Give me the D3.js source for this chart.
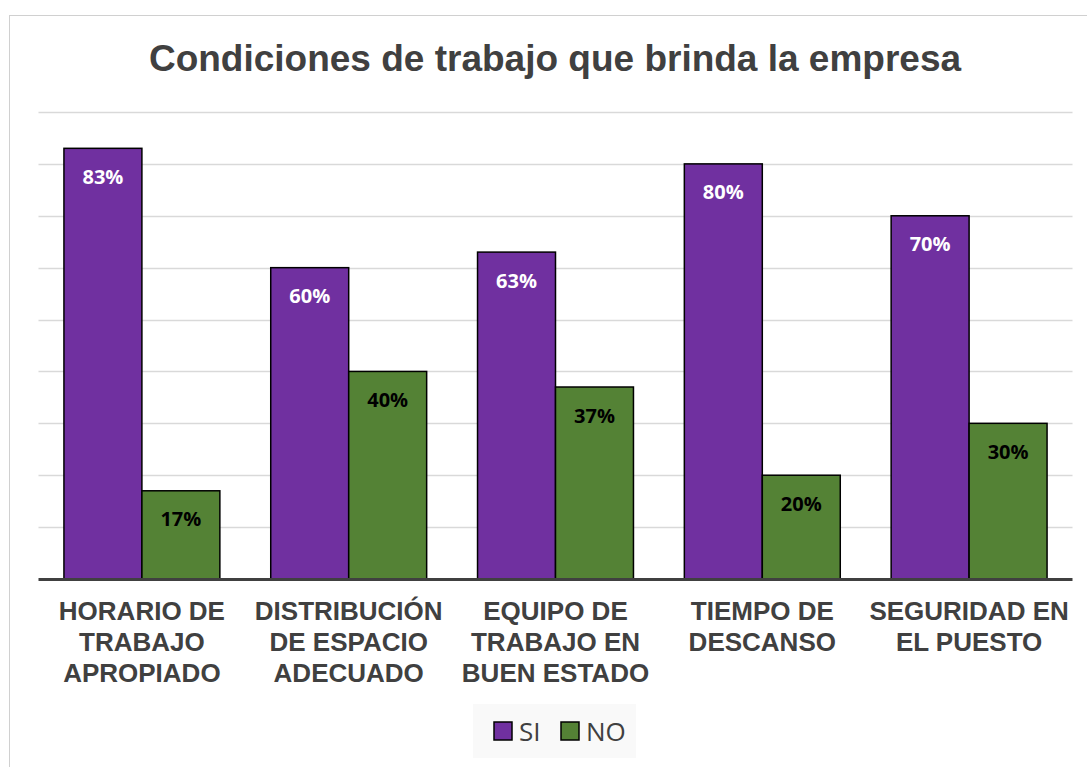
<!DOCTYPE html>
<html><head><meta charset="utf-8">
<script src="https://cdn.jsdelivr.net/npm/d3@7"></script>
<style>html,body{margin:0;padding:0;background:#fff;}</style>
</head><body>
<svg id="c" width="1087" height="767"></svg>
<script>
const categories = [
  ["HORARIO DE","TRABAJO","APROPIADO"],
  ["DISTRIBUCIÓN","DE ESPACIO","ADECUADO"],
  ["EQUIPO DE","TRABAJO EN","BUEN ESTADO"],
  ["TIEMPO DE","DESCANSO"],
  ["SEGURIDAD EN","EL PUESTO"]
];
const seriesNames = ["SI","NO"];
const siValues = [0.83,0.60,0.63,0.80,0.70];
const noValues = [0.17,0.40,0.37,0.20,0.30];
const yTicks = [0,0.1,0.2,0.3,0.4,0.5,0.6,0.7,0.8,0.9];
const colors = ["#7030A0","#548235"];

(function(){
const svg = d3.select("#c");
svg.append("rect").attr("x",9.5).attr("y",15.5).attr("width",1100).attr("height",800)
  .attr("fill","#fff").attr("stroke","#d0d0d0").attr("stroke-width",1);

const pL=38.5, pR=1072.5, pT=112, pB=579;
const x0 = d3.scaleBand().domain(d3.range(categories.length)).range([pL,pR]).paddingInner(0.246).paddingOuter(0.123);
const x1 = d3.scaleBand().domain([0,1]).range([0,x0.bandwidth()]);
const y = d3.scaleLinear().domain([0,0.9]).range([pB,pT]);

svg.append("text").attr("x",555).attr("y",71).attr("text-anchor","middle")
  .attr("font-family","'Liberation Sans', Arial, sans-serif").attr("font-weight","bold")
  .attr("font-size",37).attr("fill","#404040").text("Condiciones de trabajo que brinda la empresa");

svg.append("g").selectAll("line").data(yTicks.slice(1)).join("line")
  .attr("x1",pL).attr("x2",pR).attr("y1",d=>Math.round(y(d))+0.5).attr("y2",d=>Math.round(y(d))+0.5)
  .attr("stroke","#d9d9d9").attr("stroke-width",1.5);

const data = categories.map((c,i)=>({i, vals:[siValues[i],noValues[i]]}));
const g = svg.append("g").selectAll("g").data(data).join("g")
  .attr("transform",d=>`translate(${x0(d.i)},0)`);
g.selectAll("rect").data(d=>d.vals.map((v,k)=>({v,k}))).join("rect")
  .attr("x",d=>x1(d.k)).attr("width",x1.bandwidth())
  .attr("y",d=>y(d.v)).attr("height",d=>pB-y(d.v))
  .attr("fill",d=>colors[d.k]).attr("stroke","#000").attr("stroke-width",1.5);
g.selectAll("text").data(d=>d.vals.map((v,k)=>({v,k}))).join("text")
  .attr("x",d=>x1(d.k)+x1.bandwidth()/2).attr("y",d=>y(d.v)+35.5)
  .attr("text-anchor","middle").attr("font-family","'Open Sans', sans-serif").attr("font-weight","bold")
  .attr("font-size",20).attr("fill",d=>d.k===0?"#fff":"#000")
  .text(d=>Math.round(d.v*100)+"%");

svg.append("line").attr("x1",pL).attr("x2",pR).attr("y1",pB+0.5).attr("y2",pB+0.5)
  .attr("stroke","#404040").attr("stroke-width",3);

const lab = svg.append("g").selectAll("text").data(categories).join("text")
  .attr("text-anchor","middle").attr("font-family","'Liberation Sans', Arial, sans-serif")
  .attr("font-weight","bold").attr("font-size",26).attr("fill","#404040");
lab.each(function(lines,i){
  const t=d3.select(this);
  lines.forEach((l,j)=>t.append("tspan").attr("x",x0(i)+x0.bandwidth()/2).attr("y",620+j*31).text(l));
});

const lg = svg.append("g");
lg.append("rect").attr("x",473).attr("y",704).attr("width",163).attr("height",54).attr("fill","#f9f9f9");
const items=[{n:seriesNames[0],x:494,c:colors[0]},{n:seriesNames[1],x:561,c:colors[1]}];
items.forEach(it=>{
  lg.append("rect").attr("x",it.x).attr("y",722).attr("width",18).attr("height",18)
    .attr("fill",it.c).attr("stroke","#000").attr("stroke-width",1.5);
  lg.append("text").attr("x",it.x+25).attr("y",741).attr("font-family","'Open Sans', sans-serif")
    .attr("font-size",26).attr("fill","#404040").text(it.n);
});
})();
</script>
</body></html>
